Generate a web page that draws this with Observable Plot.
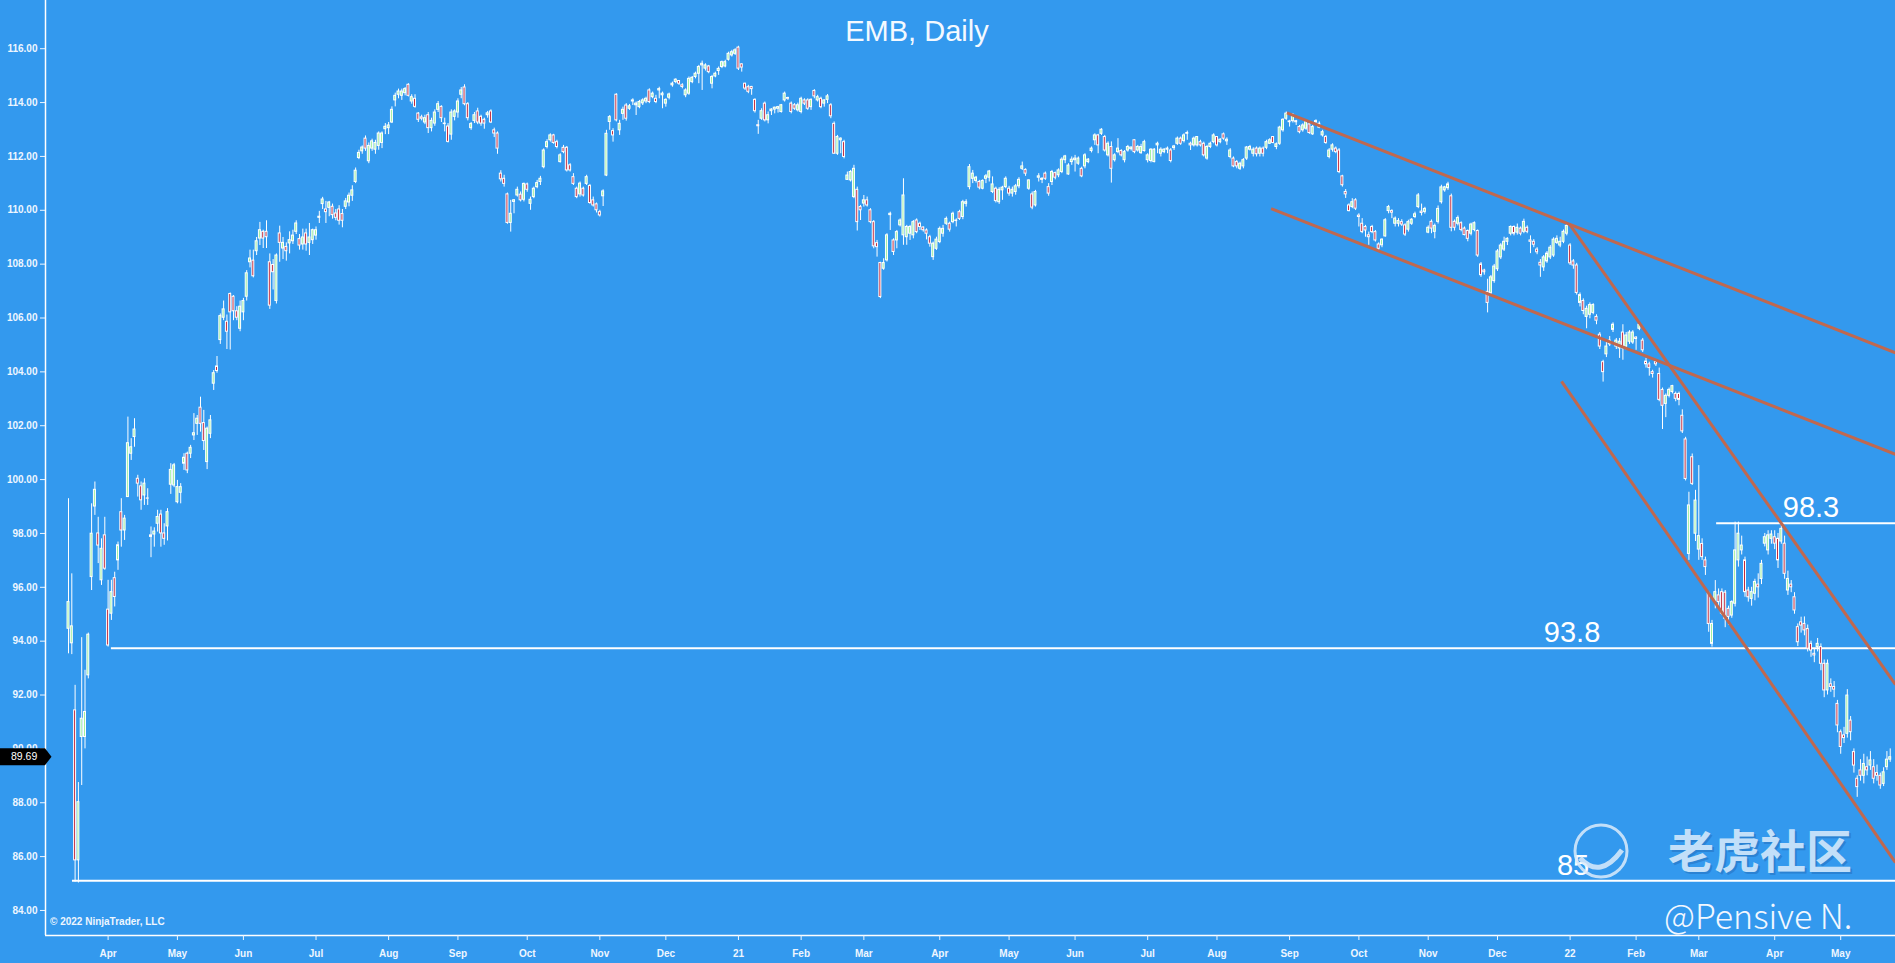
<!DOCTYPE html>
<html><head><meta charset="utf-8">
<script src="https://cdn.jsdelivr.net/npm/d3@7"></script>
<script src="https://cdn.jsdelivr.net/npm/@observablehq/plot@0.6"></script>
<style>
html,body{margin:0;padding:0;background:#3399ee;overflow:hidden;}
#chart{position:relative;width:1895px;height:963px;}
</style></head><body><div id="chart"></div>
<script>
// Daily candles, one per trading day from mid-March 2020 to late May 2022: [open, high, low, close]
const candles = [
[94.46,99.29,93.53,95.45],[93.92,96.5,93.5,94.55],[91.43,92.36,85.05,85.86],[85.86,88.75,85.02,88.02],[90.44,94.13,88.64,91.12],
[90.44,92.92,90.0,91.37],[92.73,94.3,92.6,94.24],[96.38,99.1,95.88,97.99],[99.0,99.91,98.67,99.62],[98.0,98.6,96.88,97.55],
[96.26,97.8,96.07,97.43],[97.93,98.6,96.63,96.69],[95.17,96.26,93.78,93.84],[95.02,96.26,94.77,95.82],[96.34,96.56,95.27,95.64],
[97.0,97.68,96.63,97.56],[98.79,99.29,97.49,98.11],[98.11,98.67,97.74,98.55],[99.35,102.32,99.35,101.35],[100.96,101.52,100.71,101.2],
[101.58,102.26,101.2,101.86],[100.03,100.16,99.35,99.85],[99.75,99.91,98.86,99.23],[99.41,100.03,99.04,99.85],[99.3,99.66,99.04,99.29],
[97.93,98.24,97.1,97.87],[97.96,98.21,97.49,98.07],[98.36,98.86,98.05,98.61],[98.7,98.86,97.49,98.0],[98.0,98.36,97.56,97.8],
[98.26,98.92,97.72,98.79],[99.81,100.59,99.45,100.36],[99.78,100.6,99.7,100.53],[99.16,99.97,99.1,99.72],[99.51,99.85,99.1,99.72],
[100.59,100.96,100.34,100.81],[100.96,101.02,100.22,100.34],[100.96,101.27,100.78,101.18],[101.64,102.45,101.45,101.72],[102.07,102.38,101.64,102.26],
[102.67,103.06,101.76,102.07],[102.1,102.57,101.08,101.43],[100.65,101.95,100.37,101.89],[101.7,102.38,101.52,102.2],[103.56,104.05,103.31,103.95],
[104.2,104.57,103.95,104.03],
[105.18,106.15,105.02,106.07],[106.01,106.63,105.9,106.32],[105.86,106.11,104.83,105.49],[106.89,106.93,104.81,106.21],[106.79,106.83,105.9,106.25],
[106.25,106.42,105.9,106.01],[105.6,106.63,105.49,106.42],[106.21,106.73,105.9,106.63],[106.79,107.76,106.63,107.66],[108.07,108.52,107.86,108.21],
[108.13,108.52,107.49,107.55],[108.48,108.99,108.32,108.85],[108.95,109.55,108.69,109.26],[109.2,109.26,108.58,108.95],[109.2,109.61,108.58,109.0],
[108.07,108.38,106.32,106.46],[107.97,108.17,107.04,107.7],[106.63,108.38,106.52,108.32],[109.14,109.41,108.07,108.79],[108.58,108.99,108.17,108.79],
[108.64,108.79,108.11,108.48],[108.77,109.2,108.38,108.89],[108.85,109.26,108.73,109.06],[109.2,109.61,109.1,109.51],[108.93,109.1,108.52,108.69],
[108.73,109.3,108.52,108.99],[109.14,109.3,108.48,108.73],[108.79,109.51,108.32,108.99],[108.89,109.3,108.73,109.26],[109.06,109.38,108.89,109.26],
[109.72,109.96,109.51,109.76],[110.23,110.48,110.03,110.4],[110.03,110.33,109.51,109.93],[110.09,110.33,109.76,110.29],[110.13,110.23,109.67,109.82],
[109.88,110.03,109.61,109.72],[110.03,110.17,109.45,109.61],[109.86,110.03,109.35,109.61],[110.13,110.44,110.03,110.33],[110.29,110.64,110.13,110.54],
[110.54,110.91,110.33,110.74],[111.05,111.57,110.99,111.47],[111.94,112.23,111.88,112.13],[112.19,112.39,112.08,112.33],[112.66,112.76,112.19,112.29],
[111.82,112.5,111.73,112.39],[112.29,112.64,112.19,112.56],[112.25,112.6,112.08,112.5],[112.39,112.91,112.23,112.85],[112.5,112.91,112.29,112.85],
[113.01,113.22,112.81,113.1],[113.05,113.26,112.81,113.15],[113.26,113.84,113.22,113.73],[114.08,114.35,113.84,114.25],[114.29,114.5,114.14,114.41],
[114.25,114.5,114.08,114.41],[114.35,114.56,114.25,114.5],[114.66,114.7,114.21,114.25],[114.04,114.29,113.94,114.2],[114.14,114.29,113.79,113.84],
[113.59,113.63,113.26,113.36],[113.45,113.53,113.32,113.4],[113.26,113.53,113.18,113.42],[113.53,113.63,112.85,113.05],[113.05,113.42,112.91,113.32],
[113.22,113.73,113.12,113.63],[113.73,114.04,113.63,113.94],[113.84,113.88,113.26,113.42],[113.2,113.42,112.91,113.22],[113.11,113.22,112.5,112.54],
[112.81,113.73,112.6,113.63],[113.47,113.73,113.32,113.67],[113.63,114.14,113.42,114.04],[114.29,114.56,114.14,114.45],[114.56,114.66,113.88,113.94],
[113.94,114.0,113.32,113.42],[113.05,113.26,112.97,113.2],[113.32,113.63,113.22,113.53],[113.67,113.79,113.18,113.26],[113.47,113.53,113.12,113.22],
[113.36,113.42,113.01,113.22],[113.53,113.67,113.42,113.6],[113.67,113.73,113.22,113.26],[112.97,113.05,112.7,112.85],[112.85,112.91,112.08,112.29],
[111.36,111.47,111.05,111.15],
[111.17,111.3,110.86,110.98],[110.59,110.64,109.48,109.53],[109.53,110.37,109.19,109.87],[110.31,110.4,109.87,110.37],[110.55,110.86,110.49,110.76],
[110.58,110.68,110.31,110.37],[110.39,111.01,110.31,110.98],[110.96,111.01,110.67,110.76],[110.24,110.49,110.0,110.39],[110.49,110.86,110.43,110.8],
[110.86,111.11,110.8,111.01],[111.05,111.26,110.92,111.17],[111.6,112.28,111.54,112.22],[112.35,112.62,112.28,112.53],[112.6,112.84,112.53,112.78],
[112.78,112.82,112.45,112.5],[112.53,112.6,112.28,112.35],[111.79,112.1,111.75,112.04],[112.32,112.41,112.1,112.16],[112.32,112.37,111.42,111.48],
[111.67,111.73,111.42,111.48],[111.23,111.36,110.92,110.98],[110.8,110.86,110.43,110.49],[110.59,111.05,110.49,110.99],[110.8,110.86,110.49,110.55],
[110.98,111.3,110.92,111.23],[110.9,110.96,110.22,110.27],[110.37,110.49,110.12,110.18],[110.22,110.27,109.9,110.0],[109.93,110.0,109.75,109.81],
[110.52,110.76,110.14,110.7],[111.29,112.97,111.25,112.84],[113.28,113.52,112.97,113.46],[112.94,113.03,112.53,112.78],[114.29,114.33,113.28,113.34],
[112.97,113.34,112.78,113.21],[113.58,113.83,113.34,113.73],[113.89,113.96,113.31,113.4],[113.77,113.93,113.71,113.86],[114.04,114.14,113.89,114.08],
[113.9,114.02,113.52,113.96],[113.83,114.08,113.77,114.02],[113.97,114.14,113.89,114.08],[114.04,114.2,113.96,114.14],[114.45,114.51,113.96,114.02],
[114.2,114.39,114.14,114.33],[114.14,114.27,113.96,114.02],[114.45,114.57,114.14,114.5],[114.27,114.39,113.77,114.33],[113.96,114.14,113.83,114.1],
[114.18,114.35,114.1,114.3],[114.64,114.76,114.57,114.7],[114.76,114.88,114.7,114.85],[114.8,114.82,114.64,114.7],[114.64,114.7,114.51,114.58],
[114.27,114.51,114.18,114.45],[114.33,114.95,114.27,114.88],[114.76,114.97,114.7,114.92],[114.95,115.13,114.88,115.07],[115.07,115.38,114.7,115.32],
[115.38,115.54,114.45,115.44],[115.26,115.44,115.17,115.38],[115.34,115.38,115.07,115.13],[114.7,115.01,114.51,114.95],[114.97,115.13,114.92,115.07],
[115.17,115.32,115.01,115.25],[115.32,115.54,115.26,115.5],[115.34,115.57,115.29,115.5],[115.59,115.87,115.54,115.81],[115.75,115.94,115.69,115.87],
[115.81,116.0,115.75,115.94],[116.04,116.09,115.19,115.26],[115.42,115.44,115.13,115.3],[114.7,114.72,114.45,114.52],[114.57,114.64,114.33,114.4],
[114.58,114.6,114.27,114.5],[114.1,114.14,113.61,113.68],[113.16,113.34,112.82,113.12],[113.4,113.77,113.34,113.68],[113.96,114.02,113.28,113.34],
[113.34,113.65,113.21,113.53],[113.68,113.77,113.52,113.74],[113.74,113.83,113.58,113.81],[113.77,113.86,113.61,113.83],[113.65,113.93,113.61,113.9],
[114.08,114.39,114.02,114.33],[114.17,114.2,114.08,114.14],[113.96,114.02,113.58,113.65],[113.9,113.96,113.71,113.77],[113.71,113.98,113.65,113.9],
[113.65,114.2,113.58,114.14],[114.08,114.14,113.89,113.96],[114.08,114.14,113.71,113.77],[113.83,114.14,113.71,114.1],[114.43,114.48,114.14,114.23],
[114.08,114.27,114.02,114.2],[114.14,114.2,113.77,113.83],[113.96,114.1,113.83,114.08],[114.1,114.3,113.96,114.23],[113.9,113.96,113.4,113.49],
[113.21,113.28,112.08,112.1],[112.1,112.78,112.04,112.72],[112.6,112.69,112.1,112.66],[112.53,112.6,111.91,111.98],[111.13,111.42,111.11,111.29],
[111.11,111.48,111.05,111.42],[110.49,111.67,110.43,111.54],[110.76,110.86,109.23,109.56],[110.12,110.18,109.62,110.0],[110.25,110.55,110.12,110.37],
[110.37,110.49,110.12,110.18],[110.0,110.06,109.5,109.56],[109.56,109.62,108.57,108.66],[108.78,108.88,108.26,108.63],[108.04,108.07,106.72,106.78],
[107.83,108.2,107.77,108.04],[108.14,109.13,108.08,109.07],[109.82,109.93,109.25,109.87],[108.88,108.94,108.32,108.45],[108.88,109.25,108.57,109.19],
[109.44,109.68,109.38,109.62],[109.07,111.17,108.7,110.55],[109.0,109.44,108.7,109.38],[109.13,109.44,108.88,109.38],[109.07,109.62,108.94,109.56],
[109.62,109.68,109.13,109.19],[109.5,109.56,109.25,109.38],[109.36,109.38,109.19,109.26],[109.25,109.31,108.9,109.13],[109.0,109.07,108.63,108.76],
[108.26,108.82,108.14,108.76],[108.57,109.0,108.51,108.91],[108.82,109.38,108.76,109.31],[109.13,109.44,109.0,109.31],[109.5,109.75,109.44,109.68],
[109.5,109.56,109.19,109.28],[109.56,109.93,109.5,109.87],[109.6,109.68,109.38,109.62],[109.93,110.0,109.62,109.68],
[109.75,110.37,109.65,110.3],[110.24,110.39,110.12,110.3],[110.86,111.7,110.76,111.6],[111.17,111.48,110.99,111.36],[111.09,111.26,111.01,111.21],
[111.05,111.11,110.76,110.84],[110.8,111.13,110.76,111.09],[111.17,111.33,110.99,111.26],[111.21,111.48,111.05,111.44],[110.68,111.24,110.62,110.96],
[110.8,110.86,110.27,110.34],[110.3,110.84,110.22,110.76],[110.74,110.89,110.37,110.84],[110.86,111.24,110.8,111.17],[110.8,110.89,110.52,110.62],
[110.62,110.86,110.49,110.76],[110.68,110.96,110.56,110.89],[110.89,111.21,110.8,111.13],[111.54,111.79,111.48,111.63],[111.5,111.54,111.26,111.36],
[110.8,111.13,110.74,111.11],[110.59,110.68,110.02,110.1],[110.18,110.74,110.12,110.68],[111.21,111.36,111.05,111.26],[111.13,111.21,110.99,111.17],
[111.36,111.42,111.11,111.17],[110.86,110.99,110.52,110.62],[111.05,111.48,110.92,111.42],[111.38,111.42,111.13,111.21],[111.3,111.54,111.21,111.48],
[111.42,111.95,111.36,111.88],[111.86,112.04,111.73,112.0],[111.33,111.73,111.3,111.66],[111.79,111.98,111.67,111.88],[111.86,112.04,111.42,111.92],
[111.73,111.98,111.67,111.92],[111.54,111.6,111.21,111.26],[111.63,112.1,111.54,112.04],[111.79,111.92,111.73,111.88],[112.2,112.35,112.13,112.29],
[112.6,112.84,112.41,112.78],[112.78,112.82,112.1,112.41],[112.84,113.03,112.78,112.99],[112.72,112.78,112.16,112.22],[112.04,112.54,111.98,112.47],
[112.35,112.54,111.01,111.54],[111.86,112.1,111.79,112.04],[112.16,112.66,112.1,112.29],[112.2,112.25,111.98,112.04],[111.86,112.22,111.76,112.16],
[112.22,112.41,112.16,112.35],[112.27,112.35,112.2,112.33],[112.6,112.62,112.1,112.16],[112.22,112.41,112.16,112.35],[112.12,112.45,112.08,112.35],
[112.2,112.6,112.16,112.53],[111.86,112.1,111.76,112.04],[111.83,112.29,111.76,112.25],[111.79,112.29,111.76,112.25],[112.41,112.53,112.1,112.47],
[112.1,112.32,111.98,112.25],[112.16,112.29,112.1,112.25],[112.25,112.35,112.1,112.29],[112.22,112.29,111.76,111.83],[112.31,112.41,112.22,112.37],
[112.47,112.72,112.41,112.66],[112.66,112.72,112.41,112.47],[112.57,112.84,112.5,112.78],[112.84,112.94,112.6,112.87],[112.47,112.53,112.22,112.41],
[112.41,112.72,112.35,112.66],[112.41,112.74,112.35,112.72],[112.53,112.6,112.35,112.41],[112.47,112.53,111.98,112.04],[111.92,112.41,111.86,112.35],
[112.35,112.53,112.29,112.47],[112.53,112.84,112.47,112.78],[112.72,112.74,112.35,112.41],[112.53,112.66,112.47,112.62],[112.82,112.87,112.6,112.66],
[112.56,112.69,112.41,112.62],[111.98,112.29,111.91,112.22],[111.92,111.98,111.58,111.63],[111.79,111.85,111.54,111.63],[111.54,111.79,111.48,111.73],
[111.63,111.92,111.54,111.86],[111.92,112.37,111.85,112.33],[112.25,112.41,112.2,112.35],[112.1,112.32,111.98,112.25],[112.29,112.35,111.98,112.08],
[112.1,112.35,111.98,112.29],[112.29,112.35,111.98,112.1],[112.32,112.6,112.25,112.53],[112.47,112.66,112.45,112.6],[112.72,112.74,112.47,112.5],
[112.35,112.5,112.25,112.45],[112.47,113.12,112.41,113.07],[112.97,113.4,112.9,113.36],[113.4,113.65,113.34,113.59],[113.3,113.34,113.09,113.27],
[113.31,113.59,113.24,113.52],[113.31,113.34,113.15,113.27],[113.09,113.15,112.84,112.9],[112.97,113.21,112.9,113.15],[113.03,113.34,112.97,113.27],
[113.19,113.24,112.82,112.87],[112.82,113.15,112.78,113.09],[113.27,113.36,113.15,113.31],[113.07,113.28,113.03,113.21],[112.78,112.97,112.72,112.9],
[112.72,112.78,112.45,112.5],[111.98,112.29,111.91,112.22],[112.25,112.47,112.16,112.41],[112.29,112.35,112.1,112.16],[112.22,112.29,111.36,111.42],
[111.26,111.3,110.86,110.93],[110.68,110.77,110.44,110.59],[110.18,110.24,109.94,109.97],[110.12,110.43,110.06,110.3],[110.37,110.43,109.99,110.06],
[109.8,109.87,109.38,109.75],[109.5,109.69,109.13,109.19],[109.38,109.44,109.0,109.25],[109.07,109.19,108.7,109.0],[109.38,109.44,109.13,109.19],
[109.19,109.25,108.82,108.88],[108.73,108.79,108.51,108.57],[108.7,108.94,108.61,108.91],[109.03,109.69,109.0,109.63],[109.97,110.18,109.87,110.12],
[109.97,110.02,109.69,109.91],[109.5,109.75,109.38,109.69],[109.5,109.69,109.38,109.6],[109.56,109.65,109.4,109.47],[109.44,109.5,109.03,109.1],
[109.28,109.63,109.19,109.56],[109.5,109.69,109.44,109.65],[109.75,109.93,109.69,109.85],[110.12,110.62,110.06,110.55],
[109.95,110.23,109.79,109.9],[109.94,110.11,109.86,110.05],[109.17,109.42,109.13,109.35],[109.57,109.64,109.13,109.32],[109.2,109.49,108.94,109.42],
[109.57,110.16,109.49,110.05],[110.3,110.93,110.23,110.85],[110.74,110.89,110.67,110.85],[110.82,111.04,110.74,110.96],[110.52,110.6,109.2,109.35],
[109.57,109.64,109.23,109.35],[109.5,109.79,109.42,109.71],[109.52,109.57,109.2,109.27],[109.32,109.38,109.05,109.08],[109.23,109.27,108.83,108.94],
[109.13,109.52,109.05,109.47],[109.27,109.57,109.2,109.52],[109.23,109.27,108.25,108.32],[107.99,108.06,107.51,107.59],[107.76,107.81,107.59,107.7],
[106.97,107.44,106.19,106.56],[106.92,107.58,106.85,107.51],[107.37,107.99,107.29,107.91],[107.81,108.54,107.73,108.47],[108.25,108.76,108.17,108.69],
[108.54,109.0,108.47,108.83],[108.83,108.98,108.69,108.94],[109.13,109.42,109.05,109.38],[109.38,109.42,109.05,109.13],[109.17,109.49,109.08,109.35],
[109.32,109.38,109.05,109.13],[109.2,109.67,109.13,109.57],[109.35,109.42,109.13,109.2],[108.88,109.05,108.39,108.83],[108.83,108.91,108.61,108.72],
[108.54,108.61,108.35,108.44],[108.05,108.17,107.51,107.95],[107.88,108.32,107.73,108.25],[108.1,108.47,108.03,108.39],[108.25,108.69,108.17,108.61],
[108.32,108.98,108.25,108.91],[108.79,109.05,108.73,108.94],[108.69,109.0,108.61,108.83],[108.83,109.27,108.76,109.2],[109.13,109.49,109.05,109.42],
[108.69,108.76,107.95,108.03],[108.1,108.17,107.81,107.95],[107.95,108.03,106.85,106.93],[106.56,106.93,106.41,106.85],[106.63,106.71,106.12,106.26],
[106.04,106.44,105.6,106.34],[106.12,106.56,105.97,106.48],[106.19,106.53,106.12,106.48],[106.04,106.12,105.75,105.9],[105.38,105.46,104.83,104.94],
[104.36,104.43,103.62,103.99],[104.65,105.09,104.53,104.94],[105.02,105.31,104.94,105.16],[105.56,105.82,105.46,105.75],[104.94,105.24,104.83,105.16],
[104.87,105.24,104.5,105.12],[105.46,105.75,104.43,104.87],[104.94,105.46,104.8,105.35],[105.12,105.53,105.02,105.46],[105.09,105.53,105.02,105.46],
[105.27,105.31,104.8,105.22],[105.6,105.82,105.53,105.75],[105.16,105.24,104.72,104.8],[104.38,104.5,104.14,104.28],[104.28,104.36,103.84,104.14],
[103.99,104.06,103.77,103.92],[104.36,104.43,104.2,104.28],[103.92,104.14,102.89,102.96],[103.33,103.4,101.86,102.74],[102.81,103.18,102.3,103.11],
[103.11,103.4,103.03,103.33],[103.25,103.5,103.18,103.47],[103.18,103.25,102.89,103.0],[103.18,103.25,102.74,102.96],[102.37,102.59,101.71,101.79],
[101.49,101.57,99.95,100.02],
[97.24,99.53,97.0,99.04],[100.83,100.95,99.78,99.84],[97.99,99.6,97.7,99.22],[97.4,100.52,97.0,97.9],[97.61,97.8,97.0,97.12],
[97.0,97.12,96.44,96.75],[95.76,95.82,94.33,94.64],[93.9,94.77,93.78,94.64],[95.5,96.25,95.2,95.82],[95.7,95.94,95.27,95.45],
[95.82,95.94,94.95,95.02],[95.8,95.88,94.5,94.83],[95.2,95.3,94.6,94.9],[94.95,95.5,94.85,95.45],[95.39,98.42,95.27,97.37],
[97.0,98.42,96.75,97.99],[97.37,97.9,97.2,97.55],[97.0,97.12,95.63,95.82],[95.88,96.0,95.45,95.63],[95.57,96.0,95.3,95.82],
[95.76,96.3,95.5,96.2],[96.1,96.5,95.6,96.0],[96.31,97.0,96.1,96.87],[97.62,98.0,97.5,97.86],[97.37,98.1,97.2,97.93],
[97.8,98.1,97.6,97.96],[97.86,98.1,97.4,97.62],[97.8,98.0,96.7,97.0],[97.7,98.36,97.6,98.17],[97.62,97.9,96.3,96.5],
[95.88,96.6,95.7,96.31],[96.1,96.25,95.8,96.0],[95.63,95.8,95.0,95.14],[94.52,94.64,93.8,93.96],[94.7,94.89,94.3,94.58],
[94.64,94.9,94.2,94.4],[94.45,94.6,93.6,93.72],[93.9,94.0,93.4,93.65],[93.53,93.7,93.2,93.47],[93.78,94.1,93.6,93.9],
[93.78,93.9,92.9,93.16],[93.16,93.3,91.9,92.17],[92.17,93.3,92.0,93.16],[92.4,92.6,92.1,92.3],[92.3,92.5,91.9,92.2],
[91.67,91.8,90.6,90.87],[90.62,90.7,89.8,90.07],[90.5,90.8,90.2,90.4],[90.56,92.2,90.4,91.98],[91.05,91.2,90.3,90.62],
[89.88,90.0,89.1,89.38],[88.89,89.0,88.2,88.58],[89.2,89.6,88.8,89.0],[89.0,89.8,88.7,89.44],[89.32,89.7,89.0,89.2],
[89.38,89.9,89.2,89.57],[89.32,89.6,88.7,88.89],[89.1,89.4,88.8,89.0],[89.0,89.1,88.5,88.64],[88.7,89.3,88.6,89.13],
[89.32,89.9,89.2,89.6],[89.6,90.0,89.5,89.69]
];

// Axis ticks (bar index of each month's first trading day) and labels
const monthTickIndex = [12,33,53,75,97,118,139,161,181,203,222,241,264,285,305,327,348,370,391,412,433,455,475,494,517,537];
const monthTickLabel = ["Apr","May","Jun","Jul","Aug","Sep","Oct","Nov","Dec","21","Feb","Mar","Apr","May","Jun","Jul","Aug","Sep","Oct","Nov","Dec","22","Feb","Mar","Apr","May"];
const priceTicks = [84,86,88,90,92,94,96,98,100,102,104,106,108,110,112,114,116];

// Horizontal support / resistance levels
const levelValue = [93.74, 98.38, 85.10];
const levelStartIndex = [13.0, 499.4, 1.2];
const levelLabel = ["93.8", "98.3", "85"];
const levelLabelIndex = [455.6, 528.0, 455.9];

// Drawn trend lines (bar index, price)
const trendStartIndex = [369.2, 364.4, 454.7, 452.4];
const trendStartPrice = [113.62, 110.06, 109.50, 103.65];
const trendEndIndex = [553.6, 553.6, 553.6, 553.6];
const trendEndPrice = [104.71, 100.94, 92.39, 85.78];

const lastPrice = 89.69;

const BG = "#3399ee", UP = "#9ff09f", DOWN = "#c0283c", TREND = "#c0684f", TXT = "#eef6ff";
const xMin = -6.97, xMax = 553.6, yMin = 83.07, yMax = 117.79;

const bars = candles.map(([o, h, l, c], i) => ({i, o, c, h: Math.max(h, o, c), l: Math.min(l, o, c), up: c >= o}));
const levels = levelValue.map((v, k) => ({v, start: levelStartIndex[k], label: levelLabel[k], lx: levelLabelIndex[k]}));
const trends = trendStartIndex.map((s, k) => ({x1: s, y1: trendStartPrice[k], x2: trendEndIndex[k], y2: trendEndPrice[k]}));

const chart = Plot.plot({
  width: 1895, height: 963,
  marginLeft: 45, marginRight: 0, marginTop: 0, marginBottom: 28,
  style: {background: BG, color: TXT, fontFamily: "'Liberation Sans', Arial, sans-serif", fontSize: "10px", overflow: "visible"},
  x: {type: "linear", domain: [xMin, xMax]},
  y: {type: "linear", domain: [yMin, yMax]},
  color: {type: "identity"},
  marks: [
    Plot.ruleY(levels, {y: "v", x1: "start", x2: () => xMax, stroke: "white", strokeWidth: 2}),
    Plot.ruleX(bars, {x: "i", y1: "l", y2: "h", stroke: "white", strokeWidth: 1}),
    Plot.rect(bars, {x1: d => d.i - 0.3, x2: d => d.i + 0.3, y1: "o", y2: "c", fill: d => d.up ? UP : DOWN, stroke: "white", strokeWidth: 1}),
    Plot.link(trends, {x1: "x1", y1: "y1", x2: "x2", y2: "y2", stroke: TREND, strokeWidth: 3, clip: true}),
    Plot.text(levels, {x: "lx", y: "v", text: "label", fill: "white", fontSize: 29, fontFamily: "'Liberation Sans', Arial, sans-serif", lineAnchor: "middle", dy: -15}),
    Plot.ruleX([xMin], {stroke: "white", strokeWidth: 1.5}),
    Plot.ruleY([yMin], {stroke: "white", strokeWidth: 1.5}),
    Plot.axisY(priceTicks, {anchor: "left", tickSize: 5, tickPadding: 3, tickFormat: d => d.toFixed(2), color: TXT, fontSize: 10, fontWeight: "bold"}),
    Plot.axisX(monthTickIndex, {anchor: "bottom", tickSize: 5, tickPadding: 9, tickFormat: d => monthTickLabel[monthTickIndex.indexOf(d)], color: TXT, fontSize: 10, fontWeight: "bold"})
  ]
});

document.getElementById("chart").appendChild(chart);

// Overlays: title, copyright, price tag, watermark
const svg = d3.select(chart);
const yPos = chart.scale("y").apply(lastPrice);

svg.append("text").attr("x", 917).attr("y", 41).attr("text-anchor", "middle")
  .attr("font-size", 29).attr("font-family", "'Liberation Sans', Arial, sans-serif").attr("fill", "#f4f9ff").text("EMB, Daily");

svg.append("text").attr("x", 50).attr("y", 925).attr("text-anchor", "start").attr("font-size", 10).attr("font-weight", "bold")
  .attr("fill", TXT).text("© 2022 NinjaTrader, LLC");

svg.append("path").attr("d", `M0,${yPos - 8.5}H45L51.5,${yPos}L45,${yPos + 8.5}H0Z`).attr("fill", "black");
svg.append("text").attr("x", 11).attr("y", yPos + 3.6).attr("text-anchor", "start").attr("font-size", 10.5).attr("fill", "white").text(lastPrice.toFixed(2));

const wm = svg.append("g").attr("opacity", 0.85).attr("text-anchor", "start");
wm.append("circle").attr("cx", 1601).attr("cy", 851).attr("r", 26).attr("fill", "none").attr("stroke", "#dcecfb").attr("stroke-width", 3);
wm.append("path").attr("d", "M1580,858 Q1600,880 1622,850").attr("fill", "none").attr("stroke", "#dcecfb").attr("stroke-width", 5);
wm.append("text").attr("x", 1668).attr("y", 868).attr("font-size", 46).attr("font-weight", "bold").attr("font-family", "'Noto Sans CJK SC'")
  .attr("fill", "#2a7fcf").attr("dx", 2).attr("dy", 2).text("老虎社区");
wm.append("text").attr("x", 1668).attr("y", 868).attr("font-size", 46).attr("font-weight", "bold").attr("font-family", "'Noto Sans CJK SC'")
  .attr("fill", "#dcecfb").text("老虎社区");

svg.append("text").attr("x", 1664).attr("y", 929).attr("text-anchor", "start").attr("font-size", 34).attr("font-family", "'Noto Sans CJK SC'")
  .attr("font-weight", 300).attr("fill", "#f2f7ff").text("@Pensive N.");
</script>
</body></html>
